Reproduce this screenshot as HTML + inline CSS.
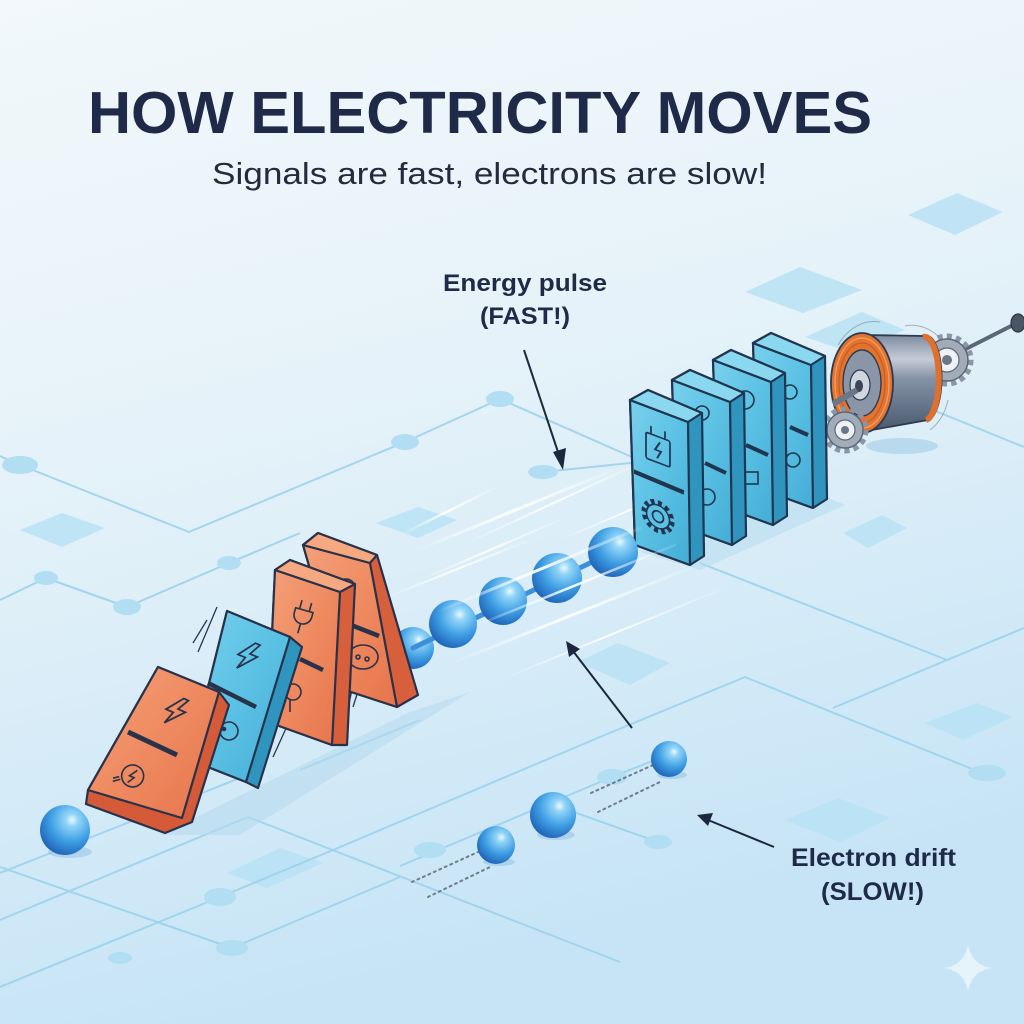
<!DOCTYPE html>
<html>
<head>
<meta charset="utf-8">
<style>
html,body{margin:0;padding:0;width:1024px;height:1024px;overflow:hidden;background:#e6f2f9;}
svg{display:block;}
</style>
</head>
<body>
<svg width="1024" height="1024" viewBox="0 0 1024 1024" xmlns="http://www.w3.org/2000/svg">
<defs>
  <linearGradient id="bg" x1="0" y1="0" x2="0.25" y2="1">
    <stop offset="0" stop-color="#f2f8fb"/>
    <stop offset="0.45" stop-color="#e5f2f9"/>
    <stop offset="1" stop-color="#c6e4f6"/>
  </linearGradient>
  <radialGradient id="sph" cx="0.64" cy="0.3" r="0.78">
    <stop offset="0" stop-color="#eefaff"/>
    <stop offset="0.16" stop-color="#92d5f8"/>
    <stop offset="0.55" stop-color="#3f9fe4"/>
    <stop offset="1" stop-color="#1a5cb3"/>
  </radialGradient>
  <linearGradient id="redFace" x1="0" y1="0" x2="1" y2="1">
    <stop offset="0" stop-color="#f4a07a"/>
    <stop offset="0.5" stop-color="#ef8a60"/>
    <stop offset="1" stop-color="#e6744b"/>
  </linearGradient>
  <linearGradient id="blueFace" x1="0" y1="0" x2="1" y2="1">
    <stop offset="0" stop-color="#78d0ec"/>
    <stop offset="0.5" stop-color="#5bc1e4"/>
    <stop offset="1" stop-color="#44add6"/>
  </linearGradient>
  <linearGradient id="motorBody" x1="0" y1="0" x2="0" y2="1">
    <stop offset="0" stop-color="#7d8ba0"/>
    <stop offset="0.25" stop-color="#c4ccd7"/>
    <stop offset="0.45" stop-color="#8593a7"/>
    <stop offset="1" stop-color="#4b596f"/>
  </linearGradient>
  <linearGradient id="streak" x1="0" y1="1" x2="1" y2="0">
    <stop offset="0" stop-color="#ffffff" stop-opacity="0"/>
    <stop offset="0.5" stop-color="#ffffff" stop-opacity="0.95"/>
    <stop offset="1" stop-color="#ffffff" stop-opacity="0.1"/>
  </linearGradient>
</defs>

<!-- background -->
<rect x="0" y="0" width="1024" height="1024" fill="url(#bg)"/>

<!-- floor diamonds -->
<g fill="#b9e2f4" opacity="0.85">
  <polygon points="908,215 957,193 1003,212 955,235"/>
  <polygon points="745,292 800,267 862,290 803,313"/>
  <polygon points="805,337 862,312 905,330 850,352"/>
  <polygon points="20,530 62,513 105,528 62,547"/>
  <polygon points="376,523 418,507 457,520 418,538"/>
  <polygon points="843,533 882,515 907,528 868,548"/>
  <polygon points="578,662 618,643 670,663 630,685"/>
  <polygon points="925,723 977,703 1013,717 963,740"/>
  <polygon points="785,820 838,798 890,818 840,842"/>
  <polygon points="227,873 280,848 323,863 267,888"/>
</g>

<!-- circuit lines -->
<g stroke="#9dd2ec" stroke-width="2" fill="none" stroke-linejoin="round" opacity="0.9">
  <polyline points="0,456 20,465 189,532 405,442 500,399 700,487"/>
  <polyline points="0,600 46,578 127,607 229,563 300,533"/>
  <polyline points="0,873 117,827 260,770"/>
  <polyline points="0,920 248,817 512,920 620,962"/>
  <polyline points="0,867 160,923 232,948 400,877"/>
  <polyline points="0,987 220,897 333,850 600,737 745,677 987,775"/>
  <polyline points="540,800 658,842"/>
  <polyline points="400,866 612,777 680,750"/>
  <polyline points="700,563 947,660 1024,628"/>
  <polyline points="833,708 947,660"/>
  <polyline points="933,410 1024,447"/>
  <polyline points="543,472 640,462"/>
  <polyline points="300,770 420,720"/>
</g>
<g fill="#b1def2">
  <ellipse cx="20" cy="465" rx="18" ry="9"/>
  <ellipse cx="405" cy="442" rx="14" ry="8"/>
  <ellipse cx="500" cy="399" rx="14" ry="8"/>
  <ellipse cx="46" cy="578" rx="12" ry="7"/>
  <ellipse cx="127" cy="607" rx="14" ry="8"/>
  <ellipse cx="229" cy="563" rx="12" ry="7"/>
  <ellipse cx="232" cy="948" rx="16" ry="8"/>
  <ellipse cx="220" cy="897" rx="16" ry="9"/>
  <ellipse cx="430" cy="850" rx="16" ry="8"/>
  <ellipse cx="658" cy="842" rx="14" ry="7"/>
  <ellipse cx="987" cy="773" rx="19" ry="8"/>
  <ellipse cx="543" cy="472" rx="15" ry="7"/>
  <ellipse cx="612" cy="777" rx="15" ry="8"/>
  <ellipse cx="120" cy="958" rx="12" ry="6"/>
</g>

<!-- domino floor shadows -->
<polygon points="160,835 410,712 470,692 240,835" fill="#b4d9ee" opacity="0.55"/>
<polygon points="640,552 700,570 845,505 815,492" fill="#b4d9ee" opacity="0.5"/>
<ellipse cx="902" cy="446" rx="36" ry="8" fill="#8fc2e3" opacity="0.45"/>

<!-- back streaks -->
<g stroke="url(#streak)" stroke-linecap="round" fill="none">
  <line x1="400" y1="535" x2="495" y2="488" stroke-width="2.5"/>
  <line x1="413" y1="552" x2="613" y2="470" stroke-width="3"/>
  <line x1="463" y1="545" x2="640" y2="463" stroke-width="2"/>
  <line x1="380" y1="600" x2="530" y2="540" stroke-width="2"/>
  <line x1="560" y1="540" x2="700" y2="480" stroke-width="2"/>
</g>

<!-- first sphere (behind D4) -->
<circle cx="413" cy="648" r="21" fill="url(#sph)"/>

<!-- motion lines -->
<g stroke="#2a3450" stroke-width="1.3" fill="none">
  <line x1="193" y1="643" x2="207" y2="620"/>
  <line x1="198" y1="652" x2="217" y2="607"/>
  <line x1="187" y1="802" x2="210" y2="757"/>
  <line x1="192" y1="798" x2="207" y2="768"/>
  <line x1="273" y1="757" x2="293" y2="713"/>
  <line x1="346" y1="718" x2="355" y2="675"/>
  <line x1="353" y1="707" x2="360" y2="685"/>
</g>

<!-- Red domino D4 (back) -->
<g stroke="#28324a" stroke-width="2.2" stroke-linejoin="round">
  <polygon points="303,545 318,533 377,555 418,695 397,707 345,690" fill="#d85f3c"/>
  <polygon points="303,545 370,563 397,707 345,690" fill="url(#redFace)"/>
  <polygon points="303,545 318,533 377,555 370,563" fill="#f6a881"/>
</g>
<g stroke="#28324a" fill="none" stroke-width="1.6">
  <circle cx="346" cy="588" r="9"/>
  <line x1="351" y1="625" x2="379" y2="636" stroke-width="4.5"/>
  <ellipse cx="363" cy="657" rx="15" ry="12"/>
  <circle cx="358" cy="657" r="2"/>
  <circle cx="367" cy="659" r="2"/>
</g>

<!-- Red domino D3 -->
<g stroke="#28324a" stroke-width="2.2" stroke-linejoin="round">
  <polygon points="275,570 290,560 355,584 347,745 332,745 268,722" fill="#d85f3c"/>
  <polygon points="275,570 340,592 332,745 268,722" fill="url(#redFace)"/>
  <polygon points="275,570 290,560 355,584 340,592" fill="#f6a881"/>
</g>
<g stroke="#28324a" fill="none" stroke-width="1.6" transform="translate(303,615) rotate(16)">
  <path d="M-9,-5 h18 v5 a9,9 0 0 1 -18,0 z"/>
  <path d="M-5,-5 v-9 M5,-5 v-9 M0,9 v10"/>
</g>
<line x1="300" y1="659" x2="323" y2="670" stroke="#28324a" stroke-width="4.5"/>
<g stroke="#28324a" fill="none" stroke-width="1.6">
  <circle cx="293" cy="692" r="8"/>
  <path d="M290,700 v12"/>
</g>

<!-- Blue domino D2 -->
<g stroke="#28324a" stroke-width="2.2" stroke-linejoin="round">
  <polygon points="227,611 290,637 302,647 258,788 246,782 190,760" fill="#2f95bf"/>
  <polygon points="227,611 290,637 246,782 190,760" fill="url(#blueFace)"/>
</g>
<g stroke="#28324a" fill="none" stroke-width="1.7" transform="translate(247,656) rotate(22)">
  <path d="M3,-15 L-9,2 L-1,2 L-5,15 L10,-3 L2,-3 L8,-15 Z"/>
</g>
<line x1="208" y1="683" x2="256" y2="707" stroke="#28324a" stroke-width="4.5"/>
<g stroke="#28324a" fill="none" stroke-width="1.6">
  <circle cx="229" cy="731" r="9"/>
  <circle cx="224" cy="729" r="1.5" fill="#28324a"/>
</g>

<!-- Red domino D1 (front) -->
<g stroke="#28324a" stroke-width="2.2" stroke-linejoin="round">
  <polygon points="158,667 219,692 229,705 192,822 165,833 86,804 88,790" fill="#d45a38"/>
  <polygon points="158,667 219,692 182,818 88,790" fill="url(#redFace)"/>
</g>
<g stroke="#28324a" fill="none" stroke-width="1.8" transform="translate(175,711) rotate(24)">
  <path d="M3,-15 L-9,2 L-1,2 L-5,15 L10,-3 L2,-3 L8,-15 Z"/>
</g>
<line x1="128" y1="732" x2="177" y2="755" stroke="#28324a" stroke-width="5"/>
<g stroke="#28324a" fill="none" stroke-width="1.6" transform="translate(130,777) rotate(24)">
  <circle cx="2" cy="-2" r="11"/>
  <path d="M-8,6 l-6,5 M-10,4 l-5,4"/>
  <path d="M4,-9 L-1,-1 L4,-1 L0,6"/>
</g>

<!-- Motor -->
<g>
  <!-- right shaft -->
  <line x1="950" y1="357" x2="1015" y2="324" stroke="#5b6676" stroke-width="4"/>
  <ellipse cx="1018" cy="323" rx="7" ry="9" fill="#4b5565" stroke="#2c3545" stroke-width="1.2"/>
  <!-- right gear -->
  <circle cx="947" cy="360" r="23" fill="none" stroke="#8a95a5" stroke-width="7" stroke-dasharray="5 4"/>
  <circle cx="947" cy="360" r="21" fill="#a2acb9" stroke="#5c6778" stroke-width="1.5"/>
  <circle cx="947" cy="360" r="12" fill="#eef2f6" stroke="#5c6778" stroke-width="1.2"/>
  <circle cx="947" cy="360" r="5" fill="#6b7687"/>
  <!-- body -->
  <path d="M864,335 L925,336 A15,42 0 0 1 928,420 L866,431 Z" fill="url(#motorBody)" stroke="#2d3a4f" stroke-width="1.8"/>
  <path d="M923,337 A14,41 0 0 1 926,420" fill="none" stroke="#e0702e" stroke-width="6"/>
  <!-- front coil -->
  <ellipse cx="862" cy="383" rx="31" ry="50" fill="#e2742f" stroke="#2d3a4f" stroke-width="1.8"/>
  <ellipse cx="862" cy="383" rx="27" ry="45" fill="none" stroke="#f3a066" stroke-width="1.2"/>
  <ellipse cx="862" cy="383" rx="23" ry="40" fill="none" stroke="#c95a22" stroke-width="1.2"/>
  <ellipse cx="862" cy="383" rx="19" ry="33" fill="#8a96a8" stroke="#2d3a4f" stroke-width="1.4"/>
  <ellipse cx="860" cy="385" rx="10" ry="15" fill="#cfd6df" stroke="#2d3a4f" stroke-width="1.2"/>
  <ellipse cx="859" cy="386" rx="4" ry="6" fill="#3b4659"/>
  <!-- left shaft & gear -->
  <line x1="857" y1="390" x2="833" y2="404" stroke="#6b7687" stroke-width="6"/>
  <circle cx="845" cy="430" r="20" fill="none" stroke="#8a95a5" stroke-width="7" stroke-dasharray="5 4"/>
  <circle cx="845" cy="430" r="18" fill="#a2acb9" stroke="#5c6778" stroke-width="1.5"/>
  <circle cx="845" cy="430" r="10" fill="#eef2f6" stroke="#5c6778" stroke-width="1.2"/>
  <circle cx="845" cy="430" r="4" fill="#6b7687"/>
  <!-- motion arcs -->
  <g fill="none" stroke="#7b8796" stroke-width="1" opacity="0.6">
    <path d="M838,345 A45,58 0 0 1 880,322"/>
    <path d="M905,326 A45,58 0 0 1 938,336"/>
    <path d="M930,430 A40,50 0 0 0 948,400"/>
  </g>
</g>

<!-- Blue dominoes (back to front) -->
<g stroke="#1f3550" stroke-width="2.2" stroke-linejoin="round">
  <!-- D -->
  <polygon points="753,343 771,333 825,356 827,499 813,508 758,488" fill="#2f95bf"/>
  <polygon points="753,343 811,365 813,508 758,488" fill="url(#blueFace)"/>
  <polygon points="753,343 771,333 825,356 811,365" fill="#8ad8f0"/>
</g>
<g stroke="#1f3550" fill="none" stroke-width="1.6">
  <circle cx="790" cy="392" r="7"/>
  <line x1="790" y1="427" x2="808" y2="435" stroke-width="4"/>
  <circle cx="793" cy="460" r="7"/>
</g>
<g stroke="#1f3550" stroke-width="2.2" stroke-linejoin="round">
  <!-- C -->
  <polygon points="713,360 731,350 785,373 787,516 773,525 718,505" fill="#2f95bf"/>
  <polygon points="713,360 771,382 773,525 718,505" fill="url(#blueFace)"/>
  <polygon points="713,360 731,350 785,373 771,382" fill="#8ad8f0"/>
</g>
<g stroke="#1f3550" fill="none" stroke-width="1.6">
  <circle cx="745" cy="400" r="9"/>
  <line x1="746" y1="445" x2="768" y2="455" stroke-width="4"/>
  <rect x="744" y="472" width="14" height="12"/>
</g>
<g stroke="#1f3550" stroke-width="2.2" stroke-linejoin="round">
  <!-- B -->
  <polygon points="672,380 690,370 744,393 746,536 732,545 677,525" fill="#2f95bf"/>
  <polygon points="672,380 730,402 732,545 677,525" fill="url(#blueFace)"/>
  <polygon points="672,380 690,370 744,393 730,402" fill="#8ad8f0"/>
</g>
<g stroke="#1f3550" fill="none" stroke-width="1.6">
  <circle cx="702" cy="413" r="7"/>
  <line x1="705" y1="463" x2="726" y2="473" stroke-width="4"/>
  <circle cx="707" cy="497" r="8"/>
</g>
<g stroke="#1f3550" stroke-width="2.2" stroke-linejoin="round">
  <!-- A -->
  <polygon points="630,400 648,390 702,413 704,556 690,565 635,545" fill="#2f95bf"/>
  <polygon points="630,400 688,422 690,565 635,545" fill="url(#blueFace)"/>
  <polygon points="630,400 648,390 702,413 688,422" fill="#8ad8f0"/>
</g>
<g transform="matrix(1,0.38,0,1,630,400)" stroke="#1f3550" fill="none" stroke-width="1.7">
  <rect x="16" y="26" width="24" height="26" rx="2"/>
  <path d="M21,26 V18 M35,26 V18"/>
  <path d="M30,31 L25,40 L31,40 L27,48"/>
  <line x1="4" y1="70" x2="54" y2="72" stroke-width="4.5"/>
  <circle cx="28" cy="106" r="14" stroke-width="5" stroke-dasharray="4 3.3"/>
  <circle cx="28" cy="106" r="11.5" fill="#5bc1e4" stroke-width="1.6"/>
  <circle cx="28" cy="106" r="5.5"/>
</g>

<!-- chain spheres -->
<g stroke="#3a8fd8" stroke-width="5" stroke-linecap="round">
  <line x1="413" y1="648" x2="613" y2="552"/>
</g>
<g>
  <circle cx="453" cy="624" r="24" fill="url(#sph)"/>
  <circle cx="503" cy="601" r="24" fill="url(#sph)"/>
  <circle cx="557" cy="578" r="25" fill="url(#sph)"/>
  <circle cx="613" cy="552" r="25" fill="url(#sph)"/>
</g>

<!-- front streaks -->
<g stroke="url(#streak)" stroke-linecap="round" fill="none">
  <line x1="437" y1="612" x2="640" y2="528" stroke-width="3"/>
  <line x1="470" y1="628" x2="675" y2="545" stroke-width="2.5"/>
  <line x1="447" y1="665" x2="690" y2="568" stroke-width="3"/>
  <line x1="500" y1="680" x2="720" y2="590" stroke-width="2"/>
  <line x1="420" y1="580" x2="560" y2="520" stroke-width="2"/>
</g>

<!-- left sphere -->
<ellipse cx="70" cy="852" rx="22" ry="6" fill="#8dbfe2" opacity="0.5"/>
<circle cx="65" cy="830" r="25" fill="url(#sph)"/>

<!-- dotted trails -->
<g stroke="#6a7d93" stroke-width="2" stroke-dasharray="2 4" stroke-linecap="round" fill="none">
  <line x1="591" y1="793" x2="653" y2="765"/>
  <line x1="598" y1="812" x2="662" y2="781"/>
  <line x1="412" y1="882" x2="478" y2="852"/>
  <line x1="428" y1="897" x2="490" y2="867"/>
</g>
<!-- drifting electrons -->
<ellipse cx="672" cy="775" rx="15" ry="4" fill="#8dbfe2" opacity="0.5"/>
<circle cx="669" cy="759" r="18" fill="url(#sph)"/>
<ellipse cx="556" cy="835" rx="19" ry="5" fill="#8dbfe2" opacity="0.5"/>
<circle cx="553" cy="815" r="23" fill="url(#sph)"/>
<ellipse cx="499" cy="862" rx="16" ry="4" fill="#8dbfe2" opacity="0.5"/>
<circle cx="496" cy="845" r="19" fill="url(#sph)"/>

<!-- arrows -->
<g stroke="#1c2740" stroke-width="2" fill="#1c2740">
  <line x1="524" y1="350" x2="560" y2="458"/>
  <polygon points="563,470 553,452 566,448" stroke="none"/>
  <line x1="632" y1="728" x2="573" y2="651"/>
  <polygon points="566,641 580,649 569,657" stroke="none"/>
  <line x1="774" y1="847" x2="708" y2="820"/>
  <polygon points="697,815 713,813 708,826" stroke="none"/>
</g>

<!-- text -->
<g font-family="'Liberation Sans', 'DejaVu Sans', sans-serif" fill="#1f2a48">
  <text x="88" y="133" font-size="59" font-weight="bold" textLength="784" lengthAdjust="spacingAndGlyphs">HOW ELECTRICITY MOVES</text>
  <text x="212" y="184" font-size="31" fill="#232b3e" textLength="555" lengthAdjust="spacingAndGlyphs">Signals are fast, electrons are slow!</text>
  <text x="443" y="291" font-size="24" font-weight="bold" textLength="164" lengthAdjust="spacingAndGlyphs">Energy pulse</text>
  <text x="480" y="324" font-size="24" font-weight="bold" textLength="90" lengthAdjust="spacingAndGlyphs">(FAST!)</text>
  <text x="791" y="866" font-size="25" font-weight="bold" textLength="165" lengthAdjust="spacingAndGlyphs">Electron drift</text>
  <text x="821" y="900" font-size="25" font-weight="bold" textLength="103" lengthAdjust="spacingAndGlyphs">(SLOW!)</text>
</g>

<!-- sparkle -->
<path d="M968,944 Q971,965 992,968 Q971,971 968,992 Q965,971 944,968 Q965,965 968,944 Z" fill="#ffffff" opacity="0.55"/>
</svg>
</body>
</html>
